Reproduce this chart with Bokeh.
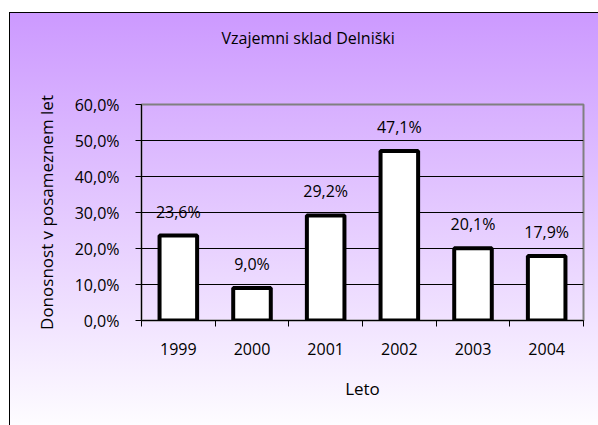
from bokeh.plotting import figure
from bokeh.models import Range1d, FixedTicker, ColumnDataSource, Title
from bokeh.core.properties import value
from bokeh.embed import file_html
from bokeh.resources import INLINE

# ---- data ----
years = [1999, 2000, 2001, 2002, 2003, 2004]
returns = [23.6, 9.0, 29.2, 47.1, 20.1, 17.9]
y_ticks = [0, 10, 20, 30, 40, 50, 60]
title_text = "Vzajemni sklad Delniški"
x_title = "Leto"
y_title = "Donosnost v posameznem let"

FONT = "Open Sans"

labels = [f"{v:.1f}%".replace(".", ",") for v in returns]
src = ColumnDataSource(dict(x=years, top=returns, label=labels))

p = figure(width=598, height=425, title=None,
           x_range=Range1d(years[0] - 0.5, years[-1] + 0.5),
           y_range=Range1d(y_ticks[0], y_ticks[-1]),
           output_backend="svg", toolbar_location=None,
           min_border_left=141, min_border_right=15,
           min_border_top=104, min_border_bottom=105)

p.background_fill_color = None
p.border_fill_color = None
p.styles = {
    "background": (
        "linear-gradient(#000,#000) 9px 12px / 1px 100% no-repeat, "
        "linear-gradient(#000,#000) 9px 12px / 100% 1px no-repeat, "
        "linear-gradient(to bottom, #cc99ff, #ffffff) 9px 12px / 100% 425px no-repeat"
    )
}
p.outline_line_color = "#808080"
p.outline_line_width = 2

# title; trailing empty lines lift it well above the plot frame
p.add_layout(Title(text=title_text + "\n\n", align="left", offset=80, standoff=24,
                   text_font=FONT, text_font_size="16px",
                   text_font_style="normal", text_color="black"), "above")

# bars
p.vbar(x="x", top="top", width=0.51, source=src,
       fill_color="white", line_color="black", line_width=4)
p.text(x="x", y="top", text="label", source=src,
       text_align="center", text_baseline="middle", y_offset=-24,
       text_font=value(FONT), text_font_size="16px", text_color="black")

# x axis
xa = p.xaxis[0]
xa.ticker = FixedTicker(ticks=years,
                        minor_ticks=[y - 0.5 for y in years] + [years[-1] + 0.5])
xa.major_label_overrides = {y: str(y) for y in years}
xa.major_tick_line_color = None
xa.major_tick_in = 0
xa.major_tick_out = 6
xa.minor_tick_in = 0
xa.minor_tick_out = 6
xa.minor_tick_line_color = "black"
xa.major_label_standoff = 16
xa.major_label_text_font = FONT
xa.major_label_text_font_size = "16px"
xa.major_label_text_color = "black"
xa.axis_line_color = "black"
xa.axis_label = x_title
xa.axis_label_text_font = FONT
xa.axis_label_text_font_size = "17px"
xa.axis_label_text_font_style = "normal"
xa.axis_label_text_color = "black"
xa.axis_label_standoff = 19

# y axis
ya = p.yaxis[0]
ya.ticker = FixedTicker(ticks=y_ticks)
ya.major_label_overrides = {t: f"{t:.1f}%".replace(".", ",") for t in y_ticks}
ya.major_tick_in = 0
ya.major_tick_out = 6
ya.major_tick_line_color = "black"
ya.minor_tick_line_color = None
ya.major_label_standoff = 16
ya.major_label_text_font = FONT
ya.major_label_text_font_size = "16px"
ya.major_label_text_color = "black"
ya.axis_line_color = "black"
ya.axis_label = y_title
ya.axis_label_text_font = FONT
ya.axis_label_text_font_size = "17px"
ya.axis_label_text_font_style = "normal"
ya.axis_label_text_color = "black"
ya.axis_label_standoff = 14

# grid
p.xgrid.visible = False
p.ygrid.ticker = FixedTicker(ticks=y_ticks[1:-1])
p.ygrid.grid_line_color = "black"
p.ygrid.grid_line_width = 1

open("out.html", "w").write(file_html(p, INLINE))
